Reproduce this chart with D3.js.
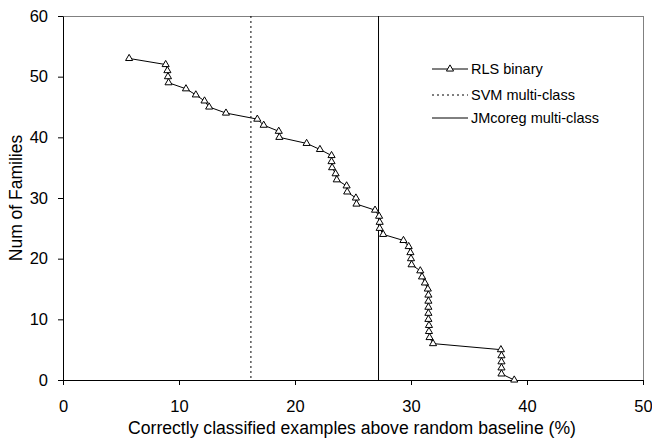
<!DOCTYPE html>
<html><head><meta charset="utf-8">
<script src="https://cdn.jsdelivr.net/npm/d3@7"></script>
<style>body{margin:0;background:#fff}svg{display:block}text{font-family:"Liberation Sans",Arial,sans-serif;fill:#000}</style>
</head><body>
<svg id="c" width="652" height="438"></svg>
<script>
// Num of families (y) vs correctly classified above baseline (x, %)
const families = [53,52,51,50,49,48,47,46,45,44,43,42,41,40,39,38,37,36,35,34,33,32,31,30,29,28,27,26,25,24,23,22,21,20,19,18,17,16,15,14,13,12,11,10,9,8,7,6,5,4,3,2,1,0];
const rlsBinary = [5.7,8.85,9.0,9.05,9.1,10.6,11.45,12.2,12.6,14.05,16.75,17.3,18.6,18.65,21.0,22.15,23.15,23.15,23.2,23.5,23.6,24.45,24.5,25.25,25.3,26.9,27.25,27.3,27.3,27.6,29.35,29.8,29.95,30.0,30.05,30.8,30.95,31.2,31.45,31.5,31.5,31.5,31.5,31.5,31.55,31.55,31.6,31.9,37.75,37.8,37.8,37.8,37.8,38.9];
const svmMulti = 16.2;
const jmcoregMulti = 27.2;
const xTicks = [0,10,20,30,40,50];
const yTicks = [0,10,20,30,40,50,60];
const legendLabels = ["RLS binary","SVM multi-class","JMcoreg multi-class"];

const svg = d3.select("#c");
const m = {l:63, r:643, t:16, b:380};
const x = d3.scaleLinear().domain([0,50]).range([m.l, m.r]);
const y = d3.scaleLinear().domain([0,60]).range([m.b, m.t]);

// plot border (top/right)
svg.append("line").attr("x1",m.l).attr("x2",m.r).attr("y1",m.t+0.5).attr("y2",m.t+0.5).attr("stroke","#808080");
svg.append("line").attr("x1",m.r+0.5).attr("x2",m.r+0.5).attr("y1",m.t).attr("y2",m.b).attr("stroke","#808080");

// vertical reference lines
svg.append("line").attr("x1",x(svmMulti)).attr("x2",x(svmMulti)).attr("y1",y(60)).attr("y2",y(0))
  .attr("stroke","#000").attr("stroke-dasharray","2,3");
svg.append("line").attr("x1",x(jmcoregMulti)).attr("x2",x(jmcoregMulti)).attr("y1",y(60)).attr("y2",y(0))
  .attr("stroke","#000");

// axes
const xa = svg.append("g").attr("transform",`translate(0,${m.b})`)
  .call(d3.axisBottom(x).tickValues(xTicks).tickSize(5).tickPadding(15).tickSizeOuter(0));
const ya = svg.append("g").attr("transform",`translate(${m.l},0)`)
  .call(d3.axisLeft(y).tickValues(yTicks).tickSize(5).tickPadding(10).tickSizeOuter(0));
[xa,ya].forEach(g=>{
  g.selectAll("text").style("font-size","16.5px").style("font-family","'Liberation Sans',Arial,sans-serif");
  g.selectAll("line,path").attr("stroke","#000");
});

// axis titles
svg.append("text").attr("x",(m.l+m.r)/2-1).attr("y",434).attr("text-anchor","middle").style("font-size","17.6px")
  .text("Correctly classified examples above random baseline (%)");
svg.append("text").attr("transform","translate(22,198) rotate(-90)").attr("text-anchor","middle").style("font-size","17.5px")
  .text("Num of Families");

// series
const pts = families.map((f,i)=>({x:rlsBinary[i], y:f}));
svg.append("path").datum(pts).attr("fill","none").attr("stroke","#000").attr("stroke-width",1)
  .attr("d", d3.line().x(d=>x(d.x)).y(d=>y(d.y)));
const tri = d3.symbol().type(d3.symbolTriangle).size(22);
svg.selectAll(".m").data(pts).join("path").attr("class","m")
  .attr("transform",d=>`translate(${x(d.x)},${y(d.y)})`).attr("d",tri())
  .attr("fill","#fff").attr("stroke","#000").attr("stroke-width",1);

// legend
const lg = svg.append("g");
const ly = [69,95,118], lx1 = 432, lx2 = 468;
lg.append("line").attr("x1",lx1).attr("x2",lx2).attr("y1",ly[0]).attr("y2",ly[0]).attr("stroke","#000");
lg.append("path").attr("transform",`translate(${(lx1+lx2)/2},${ly[0]})`).attr("d",tri()).attr("fill","#fff").attr("stroke","#000");
lg.append("line").attr("x1",lx1).attr("x2",lx2).attr("y1",ly[1]).attr("y2",ly[1]).attr("stroke","#000").attr("stroke-dasharray","2,3");
lg.append("line").attr("x1",lx1).attr("x2",lx2).attr("y1",ly[2]).attr("y2",ly[2]).attr("stroke","#000");
legendLabels.forEach((t,i)=>lg.append("text").attr("x",lx2+3).attr("y",ly[i]+5).style("font-size","14.5px").text(t));
</script>
</body></html>
